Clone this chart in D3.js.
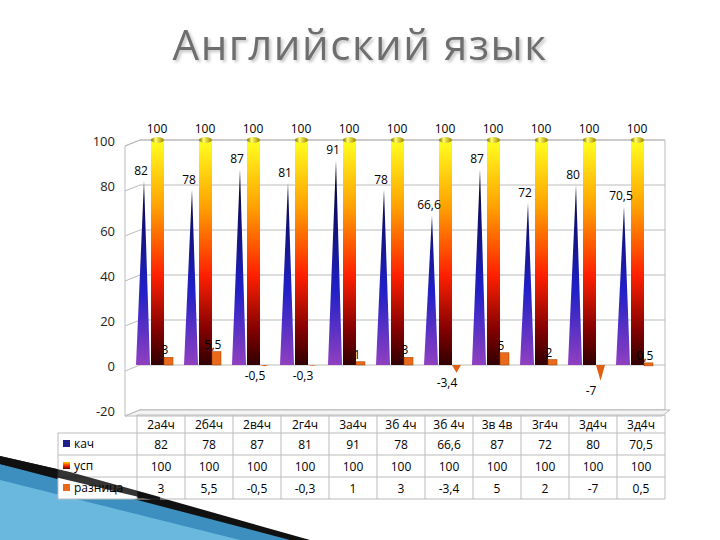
<!DOCTYPE html><html><head><meta charset="utf-8"><script src="https://cdn.jsdelivr.net/npm/d3@7"></script>
<style>body{margin:0;background:#fff}text{font-family:"Open Sans",sans-serif}</style></head><body>
<svg id="c" width="720" height="540"></svg>
<script>
const categories=["2а4ч","2б4ч","2в4ч","2г4ч","3а4ч","3б 4ч","3б 4ч","3в 4в","3г4ч","3д4ч","3д4ч"];
const kach=[82,78,87,81,91,78,66.6,87,72,80,70.5];
const usp=[100,100,100,100,100,100,100,100,100,100,100];
const razn=[3,5.5,-0.5,-0.3,1,3,-3.4,5,2,-7,0.5];
const seriesNames=["кач","усп","разница"];
const yTicks=[-20,0,20,40,60,80,100];
const fmt=v=>String(v).replace(".",",");
const svg=d3.select("#c");
const defs=svg.append("defs");
const y=d3.scaleLinear().domain([-20,100]).range([410,140]);
const x=d3.scaleBand().domain(d3.range(categories.length)).range([137,665]);
// decorative bottom-left
svg.append("polygon").attr("points","0,462 300,540 0,540").attr("fill","#3d8fc0");
svg.append("polygon").attr("points","0,480 240,540 0,540").attr("fill","#6bb8de");
svg.append("polygon").attr("points","0,456 70,472 310,540 290,540 0,464").attr("fill","#111");
// title
const f=defs.append("filter").attr("id","sh").attr("x","-10%").attr("y","-20%").attr("width","120%").attr("height","150%");
f.append("feDropShadow").attr("dx",2).attr("dy",2).attr("stdDeviation",1.5).attr("flood-color","#999").attr("flood-opacity",0.6);
svg.append("text").attr("x",360).attr("y",60).attr("text-anchor","middle").attr("font-size",42).attr("letter-spacing",1.5).attr("fill","#6e6e6e").attr("filter","url(#sh)").text("Английский язык");
// gradients
const g1=defs.append("linearGradient").attr("id","gk").attr("gradientUnits","userSpaceOnUse").attr("x1",0).attr("x2",0).attr("y1",y(95)).attr("y2",y(0));
[[0,"#000"],[0.3,"#10106a"],[0.65,"#2020c8"],[1,"#9040c0"]].forEach(s=>g1.append("stop").attr("offset",s[0]).attr("stop-color",s[1]));
const g2=defs.append("linearGradient").attr("id","gu").attr("gradientUnits","userSpaceOnUse").attr("x1",0).attr("x2",0).attr("y1",y(100)).attr("y2",y(0));
[[0,"#ffff20"],[0.3,"#ffa000"],[0.6,"#ff2000"],[0.85,"#800000"],[1,"#300000"]].forEach(s=>g2.append("stop").attr("offset",s[0]).attr("stop-color",s[1]));
const g3=defs.append("linearGradient").attr("id","gs").attr("x1",0).attr("x2",1);
[[0,"#806000"],[0.35,"#ffff60"],[1,"#a08000"]].forEach(s=>g3.append("stop").attr("offset",s[0]).attr("stop-color",s[1]));
const g4=defs.append("linearGradient").attr("id","gl").attr("x1",0).attr("x2",0).attr("y1",0).attr("y2",1);
[[0,"#ffcc00"],[0.5,"#ff3000"],[1,"#600000"]].forEach(s=>g4.append("stop").attr("offset",s[0]).attr("stop-color",s[1]));
// walls & grid
svg.append("polygon").attr("points",`125,${y(100)+6} 140,${y(100)} 665,${y(100)} 665,${y(-20)} 140,${y(-20)} 125,${y(-20)+6}`).attr("fill","none").attr("stroke","#bbb");
yTicks.forEach(t=>{
 svg.append("polyline").attr("points",`125,${y(t)+6} 140,${y(t)} 665,${y(t)}`).attr("fill","none").attr("stroke","#bbb");
 svg.append("text").attr("x",115).attr("y",y(t)+6).attr("text-anchor","end").attr("font-size",13).attr("fill","#222").text(t);
});
svg.append("polygon").attr("points",`125,${y(-20)+6} 140,${y(-20)} 670,${y(-20)} 662,${y(-20)+6}`).attr("fill","#f4f4f4").attr("stroke","#bbb");
const c=i=>x(i)+x.bandwidth()/2;
// bars
categories.forEach((d,i)=>{
 const cx=c(i);
 svg.append("polygon").attr("points",`${cx-25},${y(0)} ${cx-17},${y(kach[i])} ${cx-11},${y(0)}`).attr("fill","url(#gk)");
 svg.append("rect").attr("x",cx-10).attr("width",13).attr("y",y(usp[i])).attr("height",y(0)-y(usp[i])).attr("fill","url(#gu)");
 svg.append("ellipse").attr("cx",cx-3.5).attr("cy",y(usp[i])).attr("rx",6.5).attr("ry",3).attr("fill","url(#gs)");
 const r=razn[i];
 const top=Math.min(y(r),y(0)), h=Math.max(2,Math.abs(y(r)-y(0)));
 if(r>=0){svg.append("rect").attr("x",cx+3).attr("width",9).attr("y",top-1).attr("height",h+1).attr("fill","#e86a1a").attr("stroke","#a04000").attr("stroke-width",0.5);}
 else{svg.append("polygon").attr("points",`${cx+3},${y(0)} ${cx+12},${y(0)} ${cx+7.5},${y(r)}`).attr("fill","#e06010");}
 svg.append("text").attr("x",cx-20).attr("y",y(kach[i])-6).attr("text-anchor","middle").attr("font-size",12).text(fmt(kach[i]));
 svg.append("text").attr("x",cx-4).attr("y",y(usp[i])-7).attr("text-anchor","middle").attr("font-size",12).text(fmt(usp[i]));
 svg.append("text").attr("x",cx+(r>=0?4:-2)).attr("y",r>=0?y(r)-4:y(r)+14).attr("text-anchor","middle").attr("font-size",12).text(fmt(r));
});
// table
const rows=[kach,usp,razn];
const tTop=415;
const ys=[tTop,tTop+18,tTop+40,tTop+62,tTop+84];
svg.append("rect").attr("x",58).attr("y",ys[1]).attr("width",79).attr("height",66).attr("fill","#fff");
const tb=svg.append("g").attr("stroke","#bbb");
ys.forEach((yy,k)=>tb.append("line").attr("x1",k==0?137:58).attr("x2",665).attr("y1",yy).attr("y2",yy));
d3.range(categories.length+1).forEach(i=>{const xx=i<categories.length?x(i):665;tb.append("line").attr("x1",xx).attr("x2",xx).attr("y1",tTop).attr("y2",ys[4]);});
tb.append("line").attr("x1",58).attr("x2",58).attr("y1",ys[1]).attr("y2",ys[4]);
svg.append("polygon").attr("points","0,456 70,472 160,497 160,502 0,464").attr("fill","#111").attr("opacity",0.85);
categories.forEach((d,i)=>svg.append("text").attr("x",c(i)).attr("y",ys[0]+14).attr("text-anchor","middle").attr("font-size",12).text(d));
const lc=["#20208a","url(#gl)","#e86a1a"];
rows.forEach((r,k)=>{
 svg.append("rect").attr("x",63).attr("y",ys[k+1]+7).attr("width",7).attr("height",7).attr("fill",lc[k]);
 svg.append("text").attr("x",74).attr("y",ys[k+1]+15).attr("font-size",12).text(seriesNames[k]);
 r.forEach((v,i)=>svg.append("text").attr("x",c(i)).attr("y",ys[k+1]+16).attr("text-anchor","middle").attr("font-size",12).text(fmt(v)));
});
</script></body></html>
